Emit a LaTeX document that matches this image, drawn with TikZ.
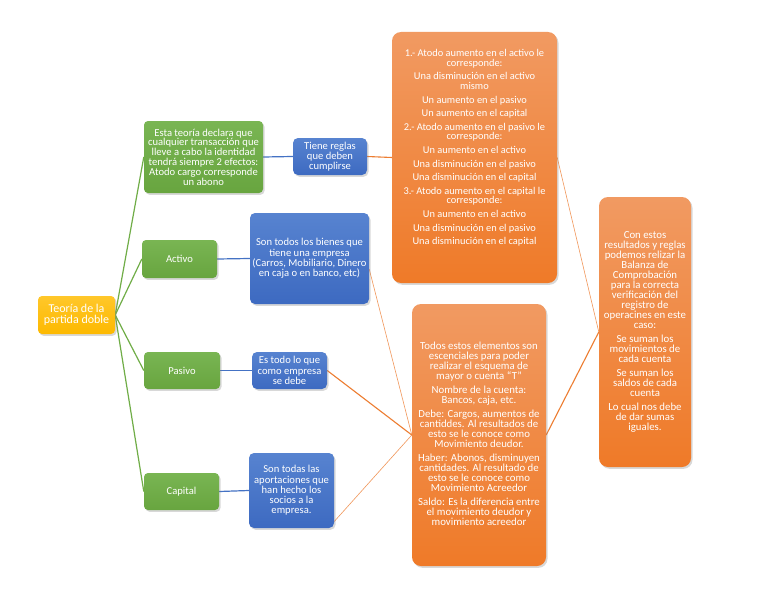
\documentclass[tikz,border=0pt]{standalone}
\usepackage{fontspec}
\setmainfont{Carlito}
\usetikzlibrary{shadows}
\definecolor{greenT}{HTML}{79B553}
\definecolor{greenB}{HTML}{68A53F}
\definecolor{greenL}{HTML}{70AD47}
\definecolor{blueT}{HTML}{5783D0}
\definecolor{blueB}{HTML}{3D6AC1}
\definecolor{blueL}{HTML}{4472C4}
\definecolor{orT}{HTML}{F19A62}
\definecolor{orB}{HTML}{EF7A28}
\definecolor{orL}{HTML}{ED7D31}
\definecolor{yelT}{HTML}{FFC72A}
\definecolor{yelB}{HTML}{FDB900}
\pgfdeclarelayer{bg}
\pgfsetlayers{bg,main}
\begin{document}
\begin{tikzpicture}[x=1pt,y=-1pt,
  box/.style={draw=none, text=white, align=center, inner sep=0pt,
    drop shadow={opacity=0.3, shadow xshift=1.5pt, shadow yshift=-1.8pt}},
  gbox/.style={box, rounded corners=4pt, top color=greenT, bottom color=greenB,
    font=\fontsize{10.6}{9.8}\selectfont},
  bbox/.style={box, rounded corners=5pt, top color=blueT, bottom color=blueB,
    font=\fontsize{10.6}{10.2}\selectfont},
  obox/.style={box, rounded corners=9pt, top color=orT, bottom color=orB},
  ytxt/.style={text=white, align=center, inner sep=0pt},
  gline/.style={draw=greenL, line width=1.2pt},
  bline/.style={draw=blueL, line width=1.2pt},
  oline/.style={draw=orL, line width=1.1pt},
  othin/.style={draw=orL!80, line width=0.6pt}
]
\useasboundingbox (0,0) rectangle (768,594);

% root
\node[box, rounded corners=4pt, top color=yelT, bottom color=yelB,
  minimum width=77pt, minimum height=38pt,
  font=\fontsize{12}{11.5}\selectfont] (root) at (76.5,315) {Teoría de la\\partida doble};

% green column
\node[gbox, minimum width=119pt, minimum height=72pt] (g1) at (203.5,157)
  {Esta teoría declara que\\cualquier transacción que\\lleve a cabo la identidad\\tendrá siempre 2 efectos:\\Atodo cargo corresponde\\un abono};
\node[gbox, minimum width=75pt, minimum height=38pt] (activo) at (179.5,259) {Activo};
\node[gbox, minimum width=76pt, minimum height=37pt] (pasivo) at (182,370.5) {Pasivo};
\node[gbox, minimum width=75pt, minimum height=37pt] (capital) at (181.5,491.5) {Capital};

% blue column
\node[bbox, minimum width=74pt, minimum height=37pt] (reglas) at (330,156.5)
  {Tiene reglas\\que deben\\cumplirse};
\node[bbox, minimum width=119pt, minimum height=91pt] (sotodos) at (309.5,258.5)
  {Son todos los bienes que\\tiene una empresa\\(Carros, Mobiliario, Dinero\\en caja o en banco, etc)};
\node[bbox, minimum width=75pt, minimum height=37pt] (estodo) at (289.5,370.5)
  {Es todo lo que\\como empresa\\se debe};
\node[bbox, minimum width=85pt, minimum height=75pt] (sotodas) at (291.5,490.5)
  {Son todas las\\aportaciones que\\han hecho los\\socios a la\\empresa.};

% orange boxes
\node[obox, minimum width=165pt, minimum height=251pt] (o1) at (474.5,157.5) {};
\node[ytxt, font=\fontsize{10.4}{9.6}\selectfont] (o1t) at (474.5,148)
  {1.- Atodo aumento en el activo le\\corresponde:\\[4pt]
   Una disminución en el activo\\mismo\\[4pt]
   Un aumento en el pasivo\\[4pt]
   Un aumento en el capital\\[4pt]
   2.- Atodo aumento en el pasivo le\\corresponde:\\[4pt]
   Un aumento en el activo\\[4pt]
   Una disminución en el pasivo\\[4pt]
   Una disminución en el capital\\[4pt]
   3.- Atodo aumento en el capital le\\corresponde:\\[4pt]
   Un aumento en el activo\\[4pt]
   Una disminución en el pasivo\\[4pt]
   Una disminución en el capital};

\node[obox, minimum width=134pt, minimum height=262pt] (o2) at (479,435) {};
\node[ytxt, font=\fontsize{10.8}{10}\selectfont] (o2t) at (479,434)
  {Todos estos elementos son\\escenciales para poder\\realizar el esquema de\\mayor o cuenta “T”\\[4pt]
   Nombre de la cuenta:\\Bancos, caja, etc.\\[4pt]
   Debe: Cargos, aumentos de\\cantiddes. Al resultados de\\esto se le conoce como\\Movimiento deudor.\\[4pt]
   Haber: Abonos, disminuyen\\cantidades. Al resultado de\\esto se le conoce como\\Movimiento Acreedor\\[4pt]
   Saldo: Es la diferencia entre\\el movimiento deudor y\\movimiento acreedor};

\node[obox, minimum width=92pt, minimum height=270pt] (o3) at (645,332) {};
\node[ytxt, font=\fontsize{10.8}{10}\selectfont] (o3t) at (645,332)
  {Con estos\\resultados y reglas\\podemos relizar la\\Balanza de\\Comprobación\\para la correcta\\verificación del\\registro de\\operacines en este\\caso:\\[4pt]
   Se suman los\\movimientos de\\cada cuenta\\[4pt]
   Se suman los\\saldos de cada\\cuenta\\[4pt]
   Lo cual nos debe\\de dar sumas\\iguales.};

% connectors
\begin{pgfonlayer}{bg}
\fill[white] (0,0) rectangle (768,594);
\draw[gline] (root.east) -- (g1.west);
\draw[gline] (root.east) -- (activo.west);
\draw[gline] (root.east) -- (pasivo.west);
\draw[gline] (root.east) -- (capital.west);
\draw[bline] (g1.east) -- (reglas.west);
\draw[bline] (activo.east) -- (sotodos.west);
\draw[bline] (pasivo.east) -- (estodo.west);
\draw[bline] (capital.east) -- (sotodas.west);
\draw[oline] (reglas.east) -- (o1.west);
\draw[othin] (sotodos.-10) -- (o2.west);
\draw[oline] (estodo.east) -- (o2.west);
\draw[othin] (sotodas.-36) -- (o2.west);
\draw[othin] (o1.east) -- (o3.west);
\draw[oline] (o2.east) -- (o3.west);
\end{pgfonlayer}
\end{tikzpicture}
\end{document}
